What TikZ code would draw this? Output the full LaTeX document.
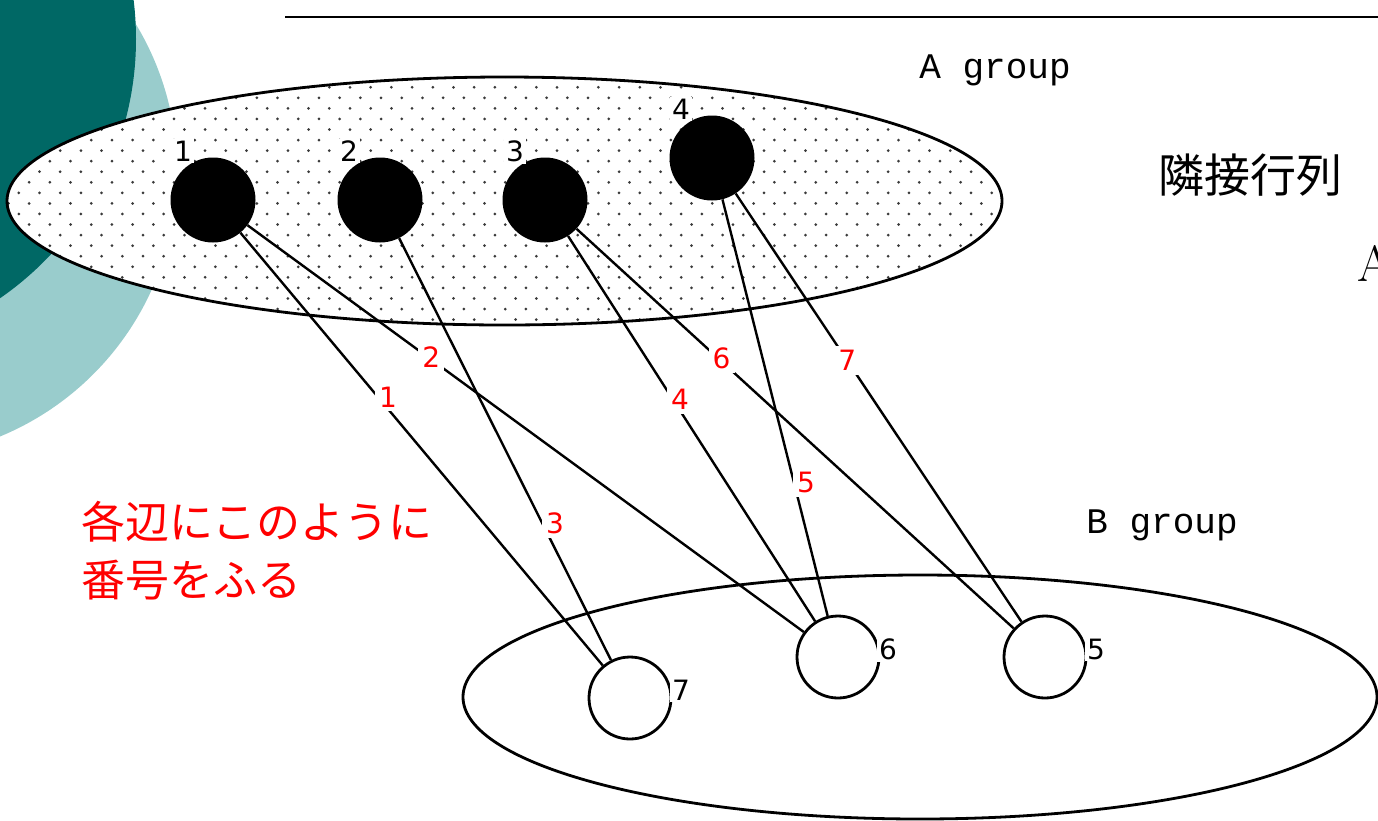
\documentclass[tikz,border=0pt]{standalone}
\usepackage{fontspec}
\newfontfamily\digitfont{DejaVu Sans}
\newfontfamily\jpfont{Noto Sans CJK JP}
\newfontfamily\groupfont{Liberation Mono}
\definecolor{deepteal}{HTML}{006865}
\definecolor{paleteal}{HTML}{99CCCC}
\definecolor{edgered}{HTML}{FF0000}
\definecolor{dotgray}{HTML}{3A3A3A}

\begin{document}
\begin{tikzpicture}[x=1pt, y=-1pt,
    vtxa/.style={circle, fill=black, minimum size=85pt, inner sep=0pt},
    vtxb/.style={circle, draw=black, line width=2.8pt, fill=white, minimum size=82pt, inner sep=0pt},
    vlabel/.style={fill=white, inner sep=2pt, font=\digitfont\fontsize{28}{28}\selectfont},
    elabel/.style={fill=white, inner sep=4pt, text=edgered, font=\digitfont\fontsize{28}{28}\selectfont},
    grouptext/.style={font=\groupfont\fontsize{36}{36}\selectfont},
    link/.style={line width=2.4pt}]
  \useasboundingbox (0,0) rectangle (1378,820);
  \clip (0,0) rectangle (1378,820);
  % Background
  \fill[paleteal] (-109,172) circle [radius=286];
  \fill[deepteal] (-179,39) circle [radius=315];
  \draw[line width=2.4pt] (285,17) -- (1378,17);
  % A group, dotted
  \fill[white] (504.5,201) ellipse [x radius=497.5, y radius=124];
  \begin{scope}
    \clip (504.5,201) ellipse [x radius=497.5, y radius=124];
    \foreach \r in {0,...,24} {
      \pgfmathsetmacro\dy{76.7+10.56*\r}
      \pgfmathsetmacro\dx{mod(\r,2)==1 ? 18.8 : 8.45}
      \foreach \c in {-1,...,48}
        \fill[dotgray] (\dx+20.7*\c, \dy) circle [radius=1.5];
    }
  \end{scope}
  \draw[line width=2.8pt] (504.5,201) ellipse [x radius=497.5, y radius=124];
  % B group
  \draw[line width=2.8pt, fill=white] (920,697) ellipse [x radius=457, y radius=122];
  \node[grouptext] (agroup) at (995,70) {A group};
  \node[grouptext] (bgroup) at (1162,525) {B group};
  % Vertices
  \node[vtxa] (a1) at (213,200) {};
  \node[vtxa] (a2) at (380,200) {};
  \node[vtxa] (a3) at (545,200) {};
  \node[vtxa] (a4) at (712,158) {};
  \node[vtxb] (b7) at (630,698) {};
  \node[vtxb] (b6) at (838,657) {};
  \node[vtxb] (b5) at (1045,657) {};
  % Edges
  \draw[link] (a1) -- node[elabel, pos=0.38, xshift=10pt] (e1) {1} (b7);
  \draw[link] (a1) -- node[elabel, pos=0.325, xshift=3pt] (e2) {2} (b6);
  \draw[link] (a2) -- node[elabel, pos=0.675, xshift=13pt] (e3) {3} (b7);
  \draw[link] (a3) -- node[elabel, pos=0.425, xshift=7pt] (e4) {4} (b6);
  \draw[link] (a4) -- node[elabel, pos=0.68, xshift=12pt] (e5) {5} (b6);
  \draw[link] (a3) -- node[elabel, pos=0.325, xshift=3pt] (e6) {6} (b5);
  \draw[link] (a4) -- node[elabel, pos=0.39] (e7) {7} (b5);
  % Vertex numbers
  \node[vlabel] (n1) at (183,151) {1};
  \node[vlabel] (n2) at (349,151) {2};
  \node[vlabel] (n3) at (515,151) {3};
  \node[vlabel] (n4) at (681,109) {4};
  \node[vlabel] (n7) at (681,690) {7};
  \node[vlabel] (n6) at (888,649) {6};
  \node[vlabel] (n5) at (1096,649) {5};
  % Texts
  \node[font=\jpfont\fontsize{46}{46}\selectfont] (title) at (1250,175) {隣接行列};
  \node[font=\fontsize{51}{51}\selectfont, anchor=west, inner sep=0pt] (mat) at (1357,263) {A};
  \node[font=\jpfont\fontsize{44}{58}\selectfont, text=edgered, align=left, anchor=west, inner sep=0pt]
    (note) at (81,551) {各辺にこのように\\番号をふる};
\end{tikzpicture}
\end{document}
